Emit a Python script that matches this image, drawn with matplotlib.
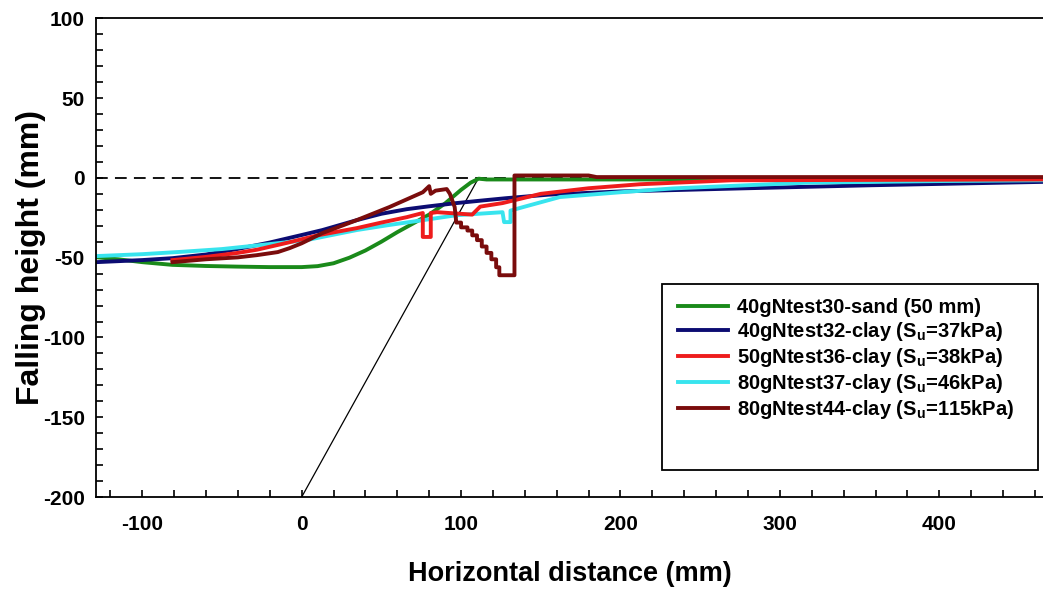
import matplotlib
matplotlib.use('Agg')
import matplotlib.pyplot as plt
from matplotlib.ticker import MultipleLocator
from matplotlib.patches import Rectangle

plt.rcParams['font.family'] = ['Liberation Sans', 'DejaVu Sans']
plt.rcParams['font.weight'] = 'bold'
plt.rcParams['axes.unicode_minus'] = False
plt.rcParams['mathtext.fontset'] = 'custom'
plt.rcParams['mathtext.bf'] = 'Liberation Sans:bold'
plt.rcParams['mathtext.rm'] = 'Liberation Sans:bold'

# 数据 (mm)
sand30_x = [-129, -115, -100, -81, -60, -40, -20, 0, 10, 20, 30, 40, 50, 60, 70, 80, 90, 100, 106, 111, 116, 465]
sand30_y = [-49.7, -51, -52.8, -54.5, -55.2, -55.6, -55.9, -55.9, -55.3, -53.5, -50, -45.5, -40, -34, -28.5,
            -23, -16, -7.5, -3, -0.5, -1, -1]

clay32_x = [-129, -100, -81, -60, -40, -20, 0, 13, 34.5, 50, 66, 80, 97, 115, 128.5, 155, 200, 275, 358, 465]
clay32_y = [-52.8, -51.5, -50.3, -48, -44.5, -40.5, -35.8, -32.7, -26.5, -22.5, -19.6, -17.8, -15.8, -14,
            -12.7, -10.5, -8.5, -6.6, -4.6, -2.5]

clay36_x = [-81, -60, -40, -28, -7.5, 10, 34.5, 50, 66, 76, 76, 81, 81, 85, 107, 112, 126, 150, 180, 212, 270, 465]
clay36_y = [-51.5, -49.5, -47, -45, -40.3, -36, -31.5, -28, -24.6, -22, -37, -37, -22, -21.5, -23, -18, -15.8,
            -10, -6.5, -4, -1.5, -1]

clay37_x = [-129, -100, -75, -50, -25, 3, 34.5, 55, 76, 97, 126, 127, 131, 131, 140, 162, 200, 233, 317, 400, 465]
clay37_y = [-49, -47.8, -46.3, -44.6, -42, -39, -32.7, -29.5, -26.5, -23.4, -21.5, -27.7, -27.7, -20.5, -18,
            -12, -9, -6.6, -3, -2, -1.5]

clay44_x = [-81, -60, -40, -28, -15, -7.5, 0, 13, 34.5, 55, 76, 80, 81, 84, 91, 93, 96, 97, 100, 100, 104, 104,
            107, 107, 110, 110, 113, 113, 116, 116, 119, 119, 122, 122, 124, 124, 133.5, 133.5, 180, 185, 465]
clay44_y = [-52.8, -51, -49.8, -48.4, -46.5, -44, -41, -34.6, -26.5, -18.3, -9, -5.2, -10, -8, -7, -10, -18.3,
            -28, -28, -31, -31, -33, -33, -36, -36, -39, -39, -43, -43, -47, -47, -51, -51, -56, -56, -61, -61,
            1.5, 1.5, 0.5, 0.5]

guide_x = [0, 111]
guide_y = [-200, 0]

labels = ['40gNtest30-sand (50 mm)',
          r'40gNtest32-clay (S$_\mathbf{u}$=37kPa)',
          r'50gNtest36-clay (S$_\mathbf{u}$=38kPa)',
          r'80gNtest37-clay (S$_\mathbf{u}$=46kPa)',
          r'80gNtest44-clay (S$_\mathbf{u}$=115kPa)']

fig = plt.figure(figsize=(10.43, 5.89), dpi=100)
ax = fig.add_axes([0.092, 0.156, 0.908, 0.813])

ax.axhline(0, color='black', lw=1.3, dashes=(6.5, 4))
ax.plot(guide_x, guide_y, color='black', lw=0.9)

lw = 2.8
ax.plot(sand30_x, sand30_y, color='#1a8a1a', lw=lw, label=labels[0])
ax.plot(clay32_x, clay32_y, color='#0c0c72', lw=lw, label=labels[1])
ax.plot(clay37_x, clay37_y, color='#38e4ee', lw=lw, label=labels[3])
ax.plot(clay36_x, clay36_y, color='#ee1c1c', lw=lw, label=labels[2])
ax.plot(clay44_x, clay44_y, color='#7a0c0c', lw=lw, label=labels[4])

ax.set_xlim(-129, 465)
ax.set_ylim(-200, 100)

ax.xaxis.set_major_locator(MultipleLocator(100))
ax.xaxis.set_minor_locator(MultipleLocator(20))
ax.yaxis.set_major_locator(MultipleLocator(50))
ax.yaxis.set_minor_locator(MultipleLocator(10))
ax.tick_params(which='both', direction='in', length=5, width=1.2, top=False, right=False)
ax.tick_params(axis='x', which='major', pad=13, labelsize=15)
ax.tick_params(axis='y', which='major', pad=8, labelsize=15)
for t in ax.get_xticklabels() + ax.get_yticklabels():
    t.set_fontweight('bold')

ax.spines['right'].set_visible(False)
for s in ['left', 'bottom', 'top']:
    ax.spines[s].set_linewidth(1.3)

ax.set_xlabel('Horizontal distance (mm)', fontsize=19.5, fontweight='bold', labelpad=19)
ax.set_ylabel('Falling height (mm)', fontsize=23, fontweight='bold', labelpad=-2)

# 图例框
ax.add_patch(Rectangle((662 / 1043, 1 - 470 / 589), 376 / 1043, 186 / 589, transform=fig.transFigure,
                       facecolor='white', edgecolor='black', lw=1.3, clip_on=False, zorder=4.5))
h, l = ax.get_legend_handles_labels()
order = [0, 1, 3, 2, 4]
leg = ax.legend([h[i] for i in order], [l[i] for i in order], loc='upper left',
                bbox_to_anchor=(678 / 1043, 1 - 298 / 589), bbox_transform=fig.transFigure, borderaxespad=0,
                frameon=False, handlelength=2.5, handletextpad=0.45, labelspacing=0.15, borderpad=0,
                prop={'size': 14.5, 'weight': 'bold'})
leg.set_zorder(5)

fig.savefig('out.png', dpi=100)
